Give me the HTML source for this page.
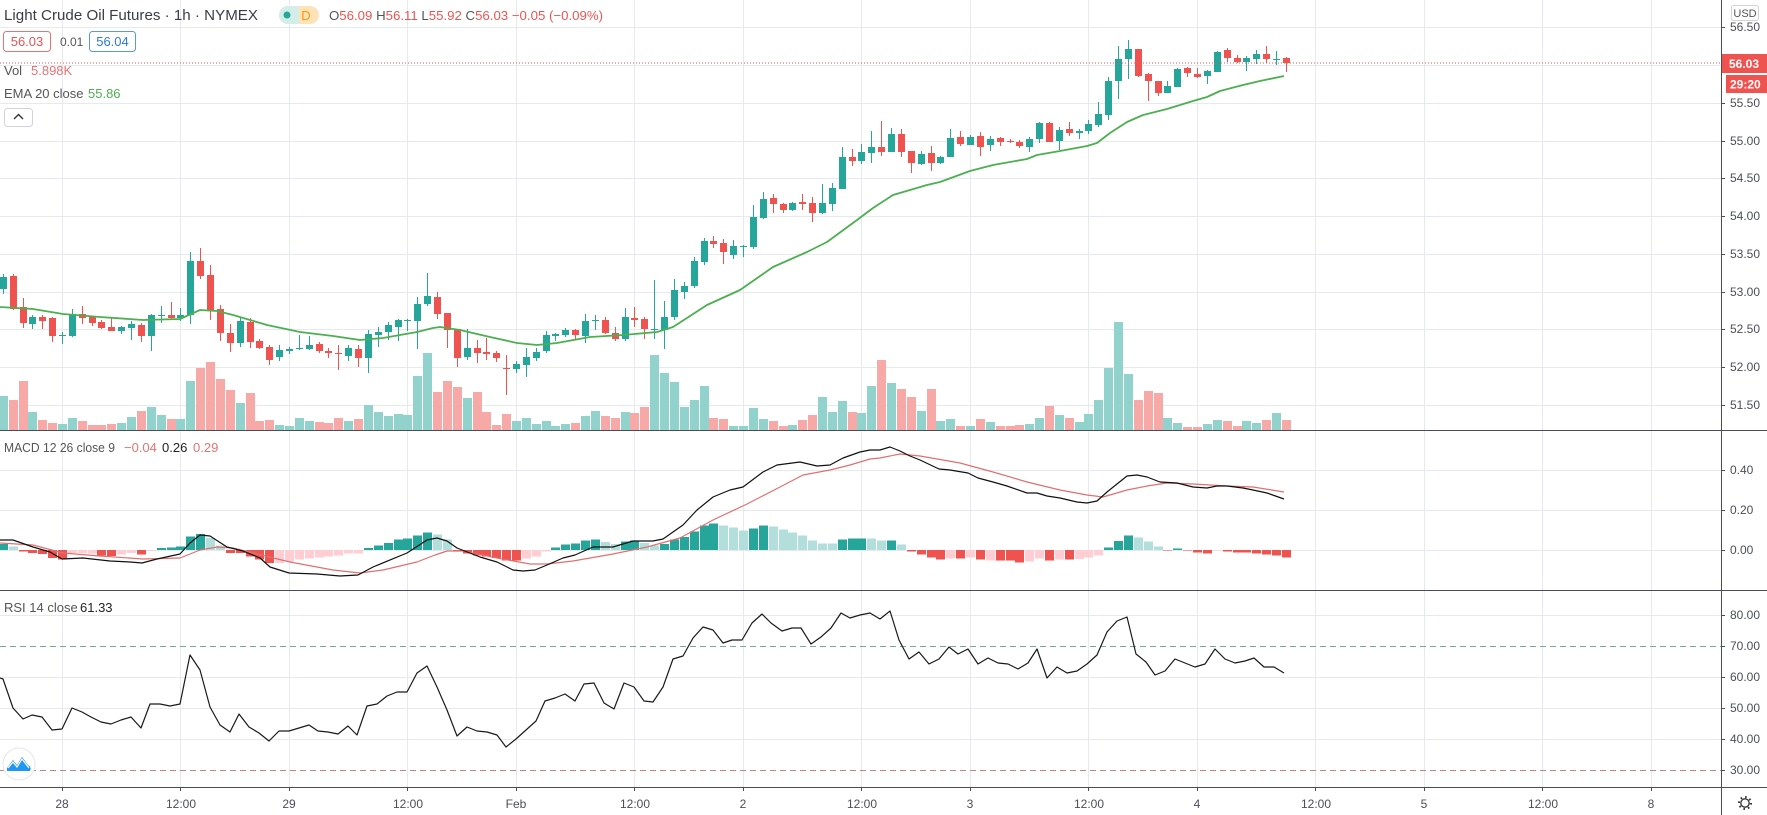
<!DOCTYPE html>
<html><head><meta charset="utf-8">
<style>
html,body{margin:0;padding:0;background:#fff;width:1767px;height:815px;overflow:hidden}
svg{display:block;font-family:"Liberation Sans",Arial,sans-serif}
</style></head><body>
<svg id="s" width="1767" height="815" viewBox="0 0 1767 815" xmlns="http://www.w3.org/2000/svg">
<rect width="1767" height="815" fill="#fff"/>
<g stroke="#e6eaef" stroke-width="1" shape-rendering="crispEdges">
<path d="M0 27.5H1721M0 65.5H1721M0 103.5H1721M0 141.5H1721M0 178.5H1721M0 216.5H1721M0 254.5H1721M0 292.5H1721M0 329.5H1721M0 367.5H1721M0 405.5H1721M0 470.5H1721M0 510.5H1721M0 550.5H1721M0 615.5H1721M0 677.5H1721M0 708.5H1721M0 739.5H1721"/>
<path d="M62.5 0V787M180.5 0V787M289.5 0V787M407.5 0V787M516.5 0V787M634.5 0V787M743.5 0V787M861.5 0V787M970.5 0V787M1088.5 0V787M1197.5 0V787M1315.5 0V787M1424.5 0V787M1542.5 0V787M1651.5 0V787"/>
</g>
<g id="vol" shape-rendering="crispEdges"></g>
<g id="cdl" shape-rendering="crispEdges"></g>
<polyline fill="none" stroke="#4caf50" stroke-width="1.8" stroke-linejoin="round" points="0,307 33,309 63,314 100,317 143,320 180,319 200,310 217,311 233,315 267,325 300,332 333,336 360,340 383,338 417,332 433,328 440,327 460,330 490,337 517,343 537,345 557,343 590,337 623,335 657,332 673,327 707,305 740,290 773,267 807,252 827,242 857,220 873,208 893,195 927,185 940,182 970,171 993,165 1027,159 1037,155 1060,151 1087,146 1097,143 1110,133 1127,122 1143,115 1167,109 1193,101 1207,97 1220,91 1243,85 1260,81 1284,76"/>
<line x1="0" y1="63" x2="1721" y2="63" stroke="#ef5350" stroke-width="1" stroke-dasharray="1 2"/>

<g id="hist" shape-rendering="crispEdges"></g>
<polyline fill="none" stroke="#e07070" stroke-width="1.2" stroke-linejoin="round" points="0,543 33,545 63,553 100,556 143,559 180,558 200,550 217,547 233,548 253,553 290,562 333,570 360,573 383,570 417,562 435,555 447,551 463,551 497,558 530,564 547,564 573,561 613,554 647,547 680,538 713,520 747,504 780,487 803,475 830,470 850,465 870,459 880,458 900,454 920,456 960,463 993,472 1027,482 1060,490 1087,495 1103,497 1127,490 1147,486 1167,483 1193,484 1227,486 1253,487 1284,492"/>
<polyline fill="none" stroke="#111" stroke-width="1.2" stroke-linejoin="round" points="0,540 13,540 33,547 50,552 62,559 83,558 110,561 130,562 142,563 157,559 180,554 190,543 200,535 210,536 227,547 243,551 260,558 270,567 289,573 317,574 340,576 358,575 373,567 407,553 427,540 437,538 447,541 457,548 480,557 497,562 513,570 523,571 535,570 547,565 563,558 575,555 593,547 613,547 633,541 653,541 663,539 683,525 697,510 713,497 730,490 743,487 763,472 777,465 800,462 817,466 830,465 843,458 860,452 870,450 880,450 890,447 900,451 910,456 920,460 939,469 950,470 968,473 978,478 993,482 1007,486 1027,493 1037,493 1047,496 1060,498 1077,502 1087,503 1097,501 1107,492 1127,476 1137,475 1147,477 1160,482 1177,483 1193,487 1207,488 1217,486 1227,486 1243,488 1253,490 1267,493 1284,499"/>

<line x1="0" y1="646.5" x2="1721" y2="646.5" stroke="#7fa890" stroke-width="1" stroke-dasharray="6 4"/>
<line x1="0" y1="770.5" x2="1721" y2="770.5" stroke="#c08585" stroke-width="1" stroke-dasharray="6 4"/>
<polyline fill="none" stroke="#1a1a1a" stroke-width="1.2" stroke-linejoin="round" points="0,678 3,679 13,708 23,719 32,715 42,717 52,730 62,729 72,708 82,712 91,717 101,722 111,724 121,720 131,717 141,728 150,704 160,704 170,706 180,704 190,655 200,670 210,707 220,725 230,732 239,714 249,727 259,733 269,741 279,731 289,731 299,728 309,725 318,731 328,732 338,734 348,726 357,735 367,706 377,704 387,696 397,692 407,692 417,673 427,666 437,687 447,710 457,736 467,727 477,731 487,732 497,735 506,747 516,739 526,730 536,721 545,701 555,698 565,694 575,701 584,684 594,683 604,703 614,709 624,683 634,687 644,701 653,702 663,687 673,659 683,656 693,638 703,627 713,630 723,643 732,640 742,640 752,623 762,614 771,623 782,631 792,628 801,628 811,644 821,637 831,628 841,613 850,618 860,615 870,613 880,619 890,611 899,640 909,659 919,652 929,664 939,659 949,647 958,654 968,649 978,664 988,658 998,663 1008,664 1018,669 1028,663 1037,649 1047,678 1057,667 1067,673 1077,671 1087,664 1097,655 1107,632 1117,621 1127,617 1136,654 1146,662 1155,675 1165,671 1175,659 1185,663 1195,667 1205,664 1215,649 1225,659 1235,663 1245,661 1254,658 1264,667 1274,667 1284,673"/>

<!-- pane borders and axes -->
<g stroke="#4a4d57" stroke-width="1" shape-rendering="crispEdges">
<path d="M0 430.5H1767M0 590.5H1767M0 787.5H1767M1721.5 0V815"/>
<path d="M1721 27.5h4M1721 103.5h4M1721 141.5h4M1721 178.5h4M1721 216.5h4M1721 254.5h4M1721 292.5h4M1721 329.5h4M1721 367.5h4M1721 405.5h4M1721 470.5h4M1721 510.5h4M1721 550.5h4M1721 615.5h4M1721 646.5h4M1721 677.5h4M1721 708.5h4M1721 739.5h4M1721 770.5h4"/>
<path d="M62.5 787v4M180.5 787v4M289.5 787v4M407.5 787v4M516.5 787v4M634.5 787v4M743.5 787v4M861.5 787v4M970.5 787v4M1088.5 787v4M1197.5 787v4M1315.5 787v4M1424.5 787v4M1542.5 787v4M1651.5 787v4"/>
</g>
<g font-size="12" fill="#4c4f58">
<text x="1730" y="31">56.50</text>
<text x="1730" y="107">55.50</text>
<text x="1730" y="145">55.00</text>
<text x="1730" y="182">54.50</text>
<text x="1730" y="220">54.00</text>
<text x="1730" y="258">53.50</text>
<text x="1730" y="296">53.00</text>
<text x="1730" y="333">52.50</text>
<text x="1730" y="371">52.00</text>
<text x="1730" y="409">51.50</text>
<text x="1730" y="474">0.40</text>
<text x="1730" y="514">0.20</text>
<text x="1730" y="554">0.00</text>
<text x="1730" y="619">80.00</text>
<text x="1730" y="650">70.00</text>
<text x="1730" y="681">60.00</text>
<text x="1730" y="712">50.00</text>
<text x="1730" y="743">40.00</text>
<text x="1730" y="774">30.00</text>
</g>
<g font-size="12" fill="#4c4f58" text-anchor="middle">
<text x="62" y="808">28</text>
<text x="181" y="808">12:00</text>
<text x="289" y="808">29</text>
<text x="408" y="808">12:00</text>
<text x="516" y="808">Feb</text>
<text x="635" y="808">12:00</text>
<text x="743" y="808">2</text>
<text x="862" y="808">12:00</text>
<text x="970" y="808">3</text>
<text x="1089" y="808">12:00</text>
<text x="1197" y="808">4</text>
<text x="1316" y="808">12:00</text>
<text x="1424" y="808">5</text>
<text x="1543" y="808">12:00</text>
<text x="1651" y="808">8</text>
</g>
<!-- gear -->
<circle cx="1745" cy="803" r="4.2" fill="none" stroke="#333" stroke-width="1.3"/>
<circle cx="1745" cy="803" r="6" fill="none" stroke="#333" stroke-width="2" stroke-dasharray="1.6 3.1"/>

<!-- price labels -->
<rect x="1731.5" y="5.5" width="27" height="15" rx="2" fill="#fff" stroke="#cfd3da"/>
<text x="1745" y="17" font-size="11" fill="#555" text-anchor="middle">USD</text>
<rect x="1722" y="54" width="45" height="19" fill="#ef5350"/>
<text x="1729" y="68" font-size="12" font-weight="bold" fill="#fff">56.03</text>
<rect x="1726" y="75" width="41" height="18" fill="#ef5350"/>
<text x="1730" y="88.5" font-size="12" font-weight="bold" fill="#fff">29:20</text>

<!-- header legend -->
<text x="4" y="20" font-size="15" fill="#3a3d45" textLength="254" lengthAdjust="spacingAndGlyphs">Light Crude Oil Futures · 1h · NYMEX</text>
<rect x="279" y="6" width="40" height="18" rx="9" fill="#ffe2b8"/>
<path d="M299,6 H288 A9,9 0 0 0 288,24 H299 Z" fill="#d3eee8"/>
<circle cx="287" cy="15" r="3.5" fill="#26a69a"/>
<text x="306" y="20" font-size="13" fill="#ff9800" text-anchor="middle">D</text>
<text x="329" y="20" font-size="13" textLength="274" lengthAdjust="spacingAndGlyphs"><tspan fill="#555">O</tspan><tspan fill="#ef5350">56.09</tspan><tspan fill="#555"> H</tspan><tspan fill="#ef5350">56.11</tspan><tspan fill="#555"> L</tspan><tspan fill="#ef5350">55.92</tspan><tspan fill="#555"> C</tspan><tspan fill="#ef5350">56.03 −0.05 (−0.09%)</tspan></text>

<rect x="3.5" y="31.5" width="47" height="20" rx="3" fill="#fff" stroke="#e57373"/>
<text x="27" y="46" font-size="13" fill="#e05555" text-anchor="middle">56.03</text>
<text x="60" y="46" font-size="12" fill="#555">0.01</text>
<rect x="89.5" y="31.5" width="46" height="20" rx="3" fill="#fff" stroke="#5a9bd5"/>
<text x="112.5" y="46" font-size="13" fill="#2e7bcf" text-anchor="middle">56.04</text>

<text x="4" y="75" font-size="13" fill="#555">Vol</text>
<text x="31" y="75" font-size="13" fill="#e57373">5.898K</text>
<text x="4" y="98" font-size="13" fill="#555">EMA 20 close</text>
<text x="88" y="98" font-size="13" fill="#4caf50">55.86</text>
<rect x="4.5" y="108.5" width="28" height="18" rx="3" fill="#fff" stroke="#d1d4dc"/>
<polyline points="14,119 18.5,114.5 23,119" fill="none" stroke="#333" stroke-width="1.4"/>

<text x="4" y="452" font-size="13" fill="#555" textLength="111" lengthAdjust="spacingAndGlyphs">MACD 12 26 close 9</text>
<text x="124" y="452" font-size="13" fill="#e57373">−0.04</text>
<text x="162" y="452" font-size="13" fill="#222">0.26</text>
<text x="193" y="452" font-size="13" fill="#e57373">0.29</text>
<text x="4" y="612" font-size="13" fill="#555">RSI 14 close</text>
<text x="80" y="612" font-size="13" fill="#222">61.33</text>

<!-- logo -->
<circle cx="19" cy="764" r="16" fill="#fff" stroke="#e3e6eb"/>
<path d="M7,771 L7,768 L13,760 L17,765 L22,757 L28,765 Q32,767 30,771 Z" fill="#2196f3"/>
<polyline points="8,768 13,762 17,767 22,759 29,768" fill="none" stroke="#fff" stroke-width="1.2"/>
</svg>
<script>
(function(){
var D="g277,289,274,294,396;r276,309,274,310,400;r307,323,298,328,381;g317,324,315,329,412;r317,321,315,329,420;r318,336,317,342,423;g335,336,332,344,424;g314,336,309,337,418;r314,318,306,324,421;r317,323,317,326,425;r322,328,320,329,425;r327,331,318,331,424;g327,331,326,334,423;g324,328,321,340,417;r325,336,323,342,411;g315,336,314,351,407;g315,316,306,323,415;r315,318,302,319,419;g315,318,308,321,419;g261,315,252,324,381;r261,276,248,279,368;r275,310,265,320,362;r309,333,305,341,379;r333,343,324,352,390;g321,343,317,347,403;r322,342,318,348,393;r341,348,339,349,421;r347,360,345,365,420;g350,357,345,361,425;g349,351,347,354,426;g348,349,335,350,418;g345,349,336,350,421;r344,351,342,353,422;r351,353,348,358,423;r353,354,345,370,418;g348,356,345,361,421;r349,358,345,367,419;g334,358,330,373,405;g332,335,327,347,412;g325,332,322,340,416;g320,327,319,341,414;g320,321,319,331,415;g304,321,297,349,376;g296,304,273,306,353;r297,314,292,319,392;r313,330,313,348,381;r329,358,329,367,387;g348,357,329,360,398;r348,353,340,363,392;r352,354,338,360,412;r353,358,351,362,425;r368,369,355,395,414;g364,369,361,373,421;g357,365,348,377,418;g352,358,348,361,424;g335,351,331,353,421;g334,336,333,341,426;g330,335,328,337,424;r330,335,329,339,423;g321,336,314,343,416;g320,321,315,330,411;r320,333,317,334,416;r333,339,327,341,418;g317,339,308,341,412;r318,320,307,327,413;r319,329,317,339,407;g329,330,280,339,355;g317,330,301,349,373;g290,317,279,320,382;g286,292,282,299,407;g261,286,257,288,400;g241,262,238,265,386;r241,244,236,248,418;r243,252,239,264,419;g246,255,240,259,426;g246,247,245,257,426;g217,247,205,249,408;g199,218,192,219,419;r198,204,194,213,421;r204,210,203,213,426;g203,210,202,211,425;r202,204,194,210,420;r203,213,197,222,415;g203,213,184,214,397;g188,204,183,211,412;g157,189,147,189,401;r157,161,149,166,412;g152,161,144,164,413;g147,153,131,163,386;r147,152,121,156,360;g134,152,128,152,383;r134,152,129,157,389;r151,163,151,173,397;g154,164,151,165,411;r153,163,146,171,389;g157,163,156,164,421;g138,157,129,157,419;r137,144,131,146,426;g137,145,135,145,426;r136,147,132,156,419;g139,145,136,151,422;r138,142,137,146,426;r141,142,139,143,426;r142,146,140,148,425;g139,147,137,152,424;g123,139,122,143,418;r123,142,122,142,406;g130,141,127,150,415;r129,133,122,136,418;g131,133,129,139,422;g124,131,120,134,414;g114,125,102,127,400;g81,115,77,120,368;g59,81,46,99,322;g49,59,40,79,374;r49,76,49,77,400;r74,81,73,101,391;r81,93,81,96,393;g86,93,81,93,418;g69,87,68,87,423;r68,73,67,77,427;r74,77,68,78,427;g71,76,70,84,424;g52,72,51,72,420;r50,58,48,62,421;r58,62,55,63,426;g58,62,56,71,421;g54,59,50,64,423;r54,59,46,63,420;g59,60,51,65,413;r58,63,57,72,420";
var H="D6;L3.7;R-1.3;R-3;R-4;R-8;R-9.3;P-3;P-3;P-3.7;R-5.3;R-6;P-4.3;P-3;R-4.3;P-1;D2;D2.7;D3.7;D13.7;D16;L12;L4.3;R-3;R-3;R-6.3;R-9.7;R-13;P-13;P-11.3;P-9.7;P-8.3;P-7.7;P-6.7;P-5.3;P-3.7;P-3.7;D2;D4.3;D7;D10.3;D11.7;D14.3;D17.7;L15.3;L10.3;R-1;R-3.7;R-5.7;R-6.7;R-8;R-10.3;R-10.3;P-8.7;P-6.3;P-1.3;D2.3;D5.3;D6.3;D9.3;D10.3;L8;L6;D8.3;D9.3;L7;L4.3;D6;D10.3;D13;D18.3;D24.3;D26.3;L24.3;L22.7;L19.3;D21.7;D24.3;L23.3;L20.3;L17.7;L14.3;L9.3;L6.3;L6.3;D10.3;D11.3;D11.3;L11.3;L9.3;D9.3;L5.3;R-1.3;R-4.7;R-7.3;R-9.7;P-8.7;R-8.3;P-7.3;R-9.7;P-10.3;R-10.7;R-10.7;R-12.3;P-11.7;P-8.3;R-10.7;P-9.7;R-9.7;P-9;P-7.3;P-5.7;D2.3;D9;D14.3;L12.7;L8.3;L3.3;R-0.7;D1.3;R-0.3;R-2.3;R-3.7;P-0.3;R-1.7;R-2.3;R-2.3;R-3.7;R-4.7;R-5.7;R-7.3";
var ns="http://www.w3.org/2000/svg";
var gv=document.getElementById('vol'),gc=document.getElementById('cdl'),gh=document.getElementById('hist');
function R(g,x,y,w,h,f){var r=document.createElementNS(ns,'rect');r.setAttribute('x',x);r.setAttribute('y',y);r.setAttribute('width',w);r.setAttribute('height',h);r.setAttribute('fill',f);g.appendChild(r);}
D.split(';').forEach(function(s,i){
  var up=s.charAt(0)==='g';var a=s.slice(1).split(',').map(Number);
  var cx=Math.round(2.78+9.87*i);var col=up?'#26a69a':'#ef5350';
  R(gv,cx-4,a[4],9,430-a[4],up?'#92d2cc':'#f7a9a7');
  R(gc,cx,a[2],1,Math.max(1,a[3]-a[2]),col);
  R(gc,cx-3,a[0],7,Math.max(1,a[1]-a[0]),col);
});
var HC={D:'#26a69a',L:'#b2dfdb',R:'#ef5350',P:'#ffcdd2'};
H.split(';').forEach(function(s,i){
  var c=s.charAt(0),v=parseFloat(s.slice(1));var cx=Math.round(2.78+9.87*i);
  if(v>=0)R(gh,cx-4,550-v,9,Math.max(v,0.7),HC[c]);else R(gh,cx-4,550,9,-v,HC[c]);
});
})();
</script>
</body></html>
